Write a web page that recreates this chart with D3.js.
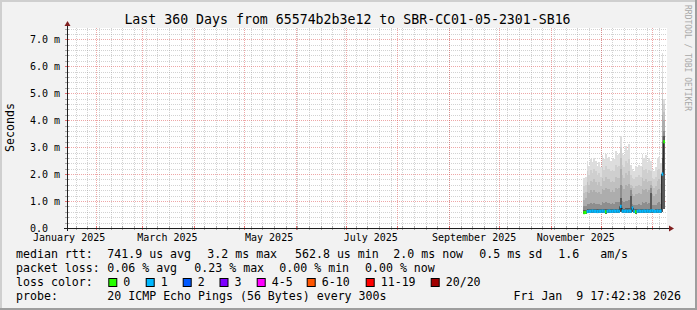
<!DOCTYPE html>
<html><head><meta charset="utf-8">
<script src="https://cdn.jsdelivr.net/npm/d3@7"></script>
<style>
html,body{margin:0;padding:0;background:#f2f2f2}
svg{display:block}
text{font-family:"DejaVu Sans Mono",monospace;white-space:pre}
</style>
</head><body>
<svg id="c" width="697" height="310"></svg>
<script>
// ---------------- data ----------------
const titleText = "Last 360 Days from 65574b2b3e12 to SBR-CC01-05-2301-SB16";
const yLabelText = "Seconds";
const watermark = "RRDTOOL / TOBI OETIKER";
const endTime = "2026-01-09T17:42:38Z";
const rangeDays = 360;
const yTicks = [0, 1, 2, 3, 4, 5, 6, 7];
const yTickLabels = ["0.0  ", "1.0 m", "2.0 m", "3.0 m", "4.0 m", "5.0 m", "6.0 m", "7.0 m"];
const yMax = 7.42;
const monthLabels = ["January 2025", "March 2025", "May 2025", "July 2025", "September 2025", "November 2025"];
const monthLabelDates = ["2025-01-01", "2025-03-01", "2025-05-01", "2025-07-01", "2025-09-01", "2025-11-01"];

// one value per day (ms), starting at dataStart
const dataStart = "2025-11-20T12:00:00Z";
const median = [0.57,0.58,0.61,0.62,0.62,0.63,0.62,0.62,0.61,0.62,0.62,0.63,0.62,0.60,0.62,0.63,0.62,0.62,0.63,0.62,0.63,0.62,0.80,0.63,0.62,0.63,0.62,0.63,0.62,0.74,0.62,0.60,0.62,0.63,0.62,0.62,0.63,0.62,0.63,0.62,0.63,0.64,0.62,0.62,0.63,0.62,0.63,2.0,3.2];
const lossClass = [0,0,1,1,1,1,1,1,1,1,1,1,1,0,1,1,1,1,1,1,1,1,1,1,1,1,1,1,1,1,1,0,1,1,1,1,1,1,1,1,1,1,1,1,1,1,1,1,0];
const pingMin = [0.53,0.53,0.54,0.54,0.55,0.54,0.55,0.54,0.54,0.55,0.54,0.55,0.54,0.53,0.54,0.55,0.54,0.54,0.55,0.54,0.55,0.54,0.6,0.55,0.54,0.55,0.54,0.55,0.54,0.6,0.54,0.53,0.54,0.55,0.54,0.54,0.55,0.54,0.55,0.54,0.55,0.55,0.54,0.54,0.55,0.54,0.55,0.6,0.7];
const ping20 = [1.85,1.9,2.5,2.3,2.55,2.45,2.6,2.5,2.3,2.45,2.25,2.7,2.55,2.75,2.6,2.65,2.5,2.6,2.55,2.85,2.7,2.75,3.4,2.8,2.7,3.05,2.9,3.1,2.35,2.2,2.1,2.3,2.25,2.35,2.3,2.75,2.6,2.7,2.45,2.6,2.5,2.2,2.1,2.25,2.6,2.65,2.4,6.5,4.8];
const ping19 = [1.55,1.6,2.1,1.95,2.15,2.05,2.2,2.1,1.95,2.05,1.9,2.25,2.15,2.3,2.2,2.2,2.1,2.15,2.1,2.35,2.25,2.3,3.0,2.35,2.25,2.5,2.4,2.55,1.95,1.85,1.8,1.9,1.9,1.95,1.9,2.25,2.15,2.2,2.05,2.15,2.1,1.85,1.8,1.9,2.15,2.2,2.0,5.6,4.6];
const ping18 = [1.3,1.35,1.7,1.6,1.75,1.7,1.8,1.7,1.6,1.7,1.55,1.85,1.75,1.9,1.8,1.8,1.7,1.75,1.7,1.9,1.85,1.85,2.6,1.95,1.85,2.05,1.95,2.1,1.6,1.55,1.5,1.55,1.55,1.6,1.55,1.85,1.75,1.8,1.7,1.75,1.75,1.55,1.5,1.55,1.75,1.8,1.65,4.8,4.3];
const ping17 = [1.05,1.1,1.35,1.3,1.4,1.35,1.4,1.35,1.3,1.35,1.25,1.45,1.4,1.5,1.45,1.45,1.35,1.4,1.35,1.5,1.45,1.5,2.2,1.55,1.45,1.6,1.55,1.65,1.5,1.25,1.2,1.25,1.25,1.3,1.25,1.45,1.4,1.45,1.35,1.4,1.6,1.25,1.2,1.25,1.4,1.45,1.3,4.2,4.0];
const ping15 = [0.8,0.8,0.9,0.88,0.92,0.9,0.93,0.9,0.88,0.9,0.86,0.95,0.92,0.97,0.94,0.94,0.9,0.92,0.9,0.97,0.95,0.96,1.6,1.0,0.95,1.02,1.0,1.05,1.4,0.9,0.85,0.86,0.87,0.9,0.87,0.96,0.93,0.95,0.9,0.92,1.5,0.86,0.84,0.86,0.93,0.95,0.9,3.4,3.6];
const ping13 = [0.66,0.66,0.7,0.7,0.71,0.7,0.71,0.7,0.69,0.7,0.69,0.72,0.71,0.72,0.71,0.71,0.7,0.71,0.7,0.72,0.72,0.72,1.1,0.73,0.72,0.74,0.73,0.75,1.2,0.8,0.69,0.69,0.7,0.7,0.69,0.72,0.71,0.72,0.7,0.71,1.3,0.69,0.68,0.69,0.71,0.72,0.7,2.6,3.4];
const smokeColors = ["#dddddd", "#cfcfcf", "#c0c0c0", "#adadad", "#8e8e8e", "#5a5a5a"];

const lossLabels = ["0", "1", "2", "3", "4-5", "6-10", "11-19", "20/20"];
const lossColors = ["#26ff00", "#00b8ff", "#0059ff", "#7e00ff", "#ff00ff", "#ff5500", "#ff0000", "#a10000"];

const legendRow1 = [["median rtt:", 16], ["741.9 us avg", 107.3], ["3.2 ms max", 207.3], ["562.8 us min", 295], ["2.0 ms now", 393.3], ["0.5 ms sd", 479.3], ["1.6   am/s", 558.3]];
const legendRow2 = [["packet loss:", 16], ["0.06 % avg", 107.3], ["0.23 % max", 194.3], ["0.00 % min", 279.3], ["0.00 % now", 365]];
const legendRow3Label = "loss color:";
const lossSwatchX = [108.3, 145.7, 182.7, 219.5, 256.7, 306.7, 365.7, 430.7];
const probeLabel = "probe:";
const probeText = "20 ICMP Echo Pings (56 Bytes) every 300s";
const dateText = "Fri Jan  9 17:42:38 2026";

// ---------------- layout ----------------
const W = 697, H = 310;
const PL = 67, PR = 667, PT = 28, PB = 228;
const svg = d3.select("#c");

svg.append("rect").attr("width", W).attr("height", H).attr("fill", "#f2f2f2");
svg.append("rect").attr("x", 0).attr("y", 0).attr("width", W).attr("height", 2).attr("fill", "#cfcfcf");
svg.append("rect").attr("x", 0).attr("y", 0).attr("width", 2).attr("height", H).attr("fill", "#cfcfcf");
svg.append("rect").attr("x", 0).attr("y", H - 2).attr("width", W).attr("height", 2).attr("fill", "#9e9e9e");
svg.append("rect").attr("x", W - 2).attr("y", 0).attr("width", 2).attr("height", H).attr("fill", "#9e9e9e");

svg.append("rect").attr("x", PL).attr("y", PT).attr("width", PR - PL).attr("height", PB - PT).attr("fill", "#ffffff");

const tEnd = new Date(endTime);
const tStart = new Date(tEnd.getTime() - rangeDays * 86400000);
const x = d3.scaleUtc().domain([tStart, tEnd]).range([PL, PR]);
const y = d3.scaleLinear().domain([0, yMax]).range([PB, PT]);

// grid
const grid = svg.append("g");
const weeks = d3.utcMonday.range(tStart, tEnd);
const months = d3.utcMonth.range(tStart, tEnd);
const minorYs = d3.range(0, yMax, 0.2).filter(v => Math.abs(v - Math.round(v)) > 1e-6);
minorYs.forEach(v => {
  const yy = Math.round(y(v)) + 0.5;
  grid.append("line").attr("x1", PL).attr("x2", PR).attr("y1", yy).attr("y2", yy)
    .attr("stroke", "rgba(143,143,143,0.4)").attr("stroke-dasharray", "1,1");
  grid.append("line").attr("x1", PL - 2).attr("x2", PL + 2).attr("y1", yy).attr("y2", yy).attr("stroke", "rgba(143,143,143,0.75)");
});
weeks.forEach(d => {
  const xx = Math.round(x(d)) + 0.5;
  grid.append("line").attr("x1", xx).attr("x2", xx).attr("y1", PT).attr("y2", PB)
    .attr("stroke", "rgba(143,143,143,0.4)").attr("stroke-dasharray", "1,1");
  grid.append("line").attr("x1", xx).attr("x2", xx).attr("y1", PB - 2).attr("y2", PB + 2).attr("stroke", "rgba(143,143,143,0.75)");
});
yTicks.forEach(v => {
  const yy = Math.round(y(v)) + 0.5;
  grid.append("line").attr("x1", PL).attr("x2", PR).attr("y1", yy).attr("y2", yy)
    .attr("stroke", "rgba(222,79,79,0.5)").attr("stroke-dasharray", "1,1");
  grid.append("line").attr("x1", PL - 2).attr("x2", PL + 2).attr("y1", yy).attr("y2", yy).attr("stroke", "rgba(222,79,79,0.8)");
});
months.forEach(d => {
  const xx = Math.round(x(d)) + 0.5;
  grid.append("line").attr("x1", xx).attr("x2", xx).attr("y1", PT).attr("y2", PB)
    .attr("stroke", "rgba(222,79,79,0.5)").attr("stroke-dasharray", "1,1");
  grid.append("line").attr("x1", xx).attr("x2", xx).attr("y1", PB - 2).attr("y2", PB + 2).attr("stroke", "rgba(222,79,79,0.8)");
});

// data
const d0 = new Date(dataStart);
const days = median.map((_, i) => new Date(d0.getTime() + i * 86400000));
const dayEnd = i => new Date(days[i].getTime() + 86400000);
const rows = days.map((d, i) => ({ d, i }));

const plot = svg.append("g");
const smokeSeries = [ping20, ping19, ping18, ping17, ping15, ping13];
smokeSeries.forEach((arr, k) => {
  rows.forEach(r => {
    const x0 = x(r.d), x1 = x(dayEnd(r.i));
    plot.append("rect").attr("x", x0).attr("width", x1 - x0 + 0.02)
      .attr("y", y(arr[r.i])).attr("height", y(pingMin[r.i]) - y(arr[r.i]))
      .attr("fill", smokeColors[k]).attr("shape-rendering", "crispEdges");
  });
});

const medLine = d3.line().x(r => x(r.d)).y(r => y(median[r.i])).curve(d3.curveStepAfter);
plot.append("path").datum(rows.concat([{ d: dayEnd(rows.length - 1), i: rows.length - 1 }]))
  .attr("d", medLine).attr("fill", "none").attr("stroke", "#202020").attr("stroke-width", 1);

const bw = 1.6;
rows.forEach(r => {
  const x0 = x(r.d), x1 = x(dayEnd(r.i));
  plot.append("rect").attr("x", x0).attr("width", x1 - x0 + 0.02)
    .attr("y", y(median[r.i]) - bw).attr("height", 2 * bw)
    .attr("fill", lossColors[lossClass[r.i]]);
});

// axes
svg.append("line").attr("x1", PL - 3).attr("x2", PR + 3).attr("y1", PB + 0.5).attr("y2", PB + 0.5).attr("stroke", "#1f1f1f");
svg.append("line").attr("x1", PL + 0.5).attr("x2", PL + 0.5).attr("y1", PT - 3).attr("y2", PB + 3).attr("stroke", "#1f1f1f");
svg.append("path").attr("d", `M${PR + 2},${PB - 2.5} L${PR + 7},${PB + 0.5} L${PR + 2},${PB + 3.5} Z`).attr("fill", "#801f1f");
svg.append("path").attr("d", `M${PL - 2.5},${PT - 2} L${PL + 0.5},${PT - 7} L${PL + 3.5},${PT - 2} Z`).attr("fill", "#801f1f");

yTicks.forEach((v, i) => {
  svg.append("text").attr("x", 30).attr("y", y(v) + 3.7).attr("font-size", "10px").attr("fill", "#000").text(yTickLabels[i]);
});
monthLabels.forEach((t, i) => {
  const dm = new Date(monthLabelDates[i] + "T00:00:00Z");
  const xm = x(new Date(dm.getTime() + 15 * 86400000));
  svg.append("text").attr("x", xm).attr("y", 241).attr("text-anchor", "middle").attr("font-size", "10px").text(t);
});

svg.append("text").attr("x", 347.5).attr("y", 24).attr("text-anchor", "middle").attr("font-size", "13.24px").text(titleText);
svg.append("text").attr("transform", "translate(14,127.5) rotate(-90)").attr("text-anchor", "middle").attr("font-size", "11.6px").text(yLabelText);
svg.append("text").attr("transform", "translate(685,5) rotate(90)").attr("font-size", "8px").attr("fill", "#a8a8a8").text(watermark);

const lf = "11.6px";
legendRow1.forEach(([t, xx]) => svg.append("text").attr("x", xx).attr("y", 258.3).attr("font-size", lf).text(t));
legendRow2.forEach(([t, xx]) => svg.append("text").attr("x", xx).attr("y", 272.3).attr("font-size", lf).text(t));
svg.append("text").attr("x", 16).attr("y", 286.3).attr("font-size", lf).text(legendRow3Label);
lossLabels.forEach((t, i) => {
  svg.append("rect").attr("x", lossSwatchX[i] + 0.5).attr("y", 278.5).attr("width", 8).attr("height", 8)
    .attr("fill", lossColors[i]).attr("stroke", "#000").attr("stroke-width", 1);
  svg.append("text").attr("x", lossSwatchX[i] + 15).attr("y", 286.3).attr("font-size", lf).text(t);
});
svg.append("text").attr("x", 16).attr("y", 300.3).attr("font-size", lf).text(probeLabel);
svg.append("text").attr("x", 107.3).attr("y", 300.3).attr("font-size", lf).text(probeText);
svg.append("text").attr("x", 681).attr("y", 300.3).attr("text-anchor", "end").attr("font-size", lf).text(dateText);
</script>
</body></html>
